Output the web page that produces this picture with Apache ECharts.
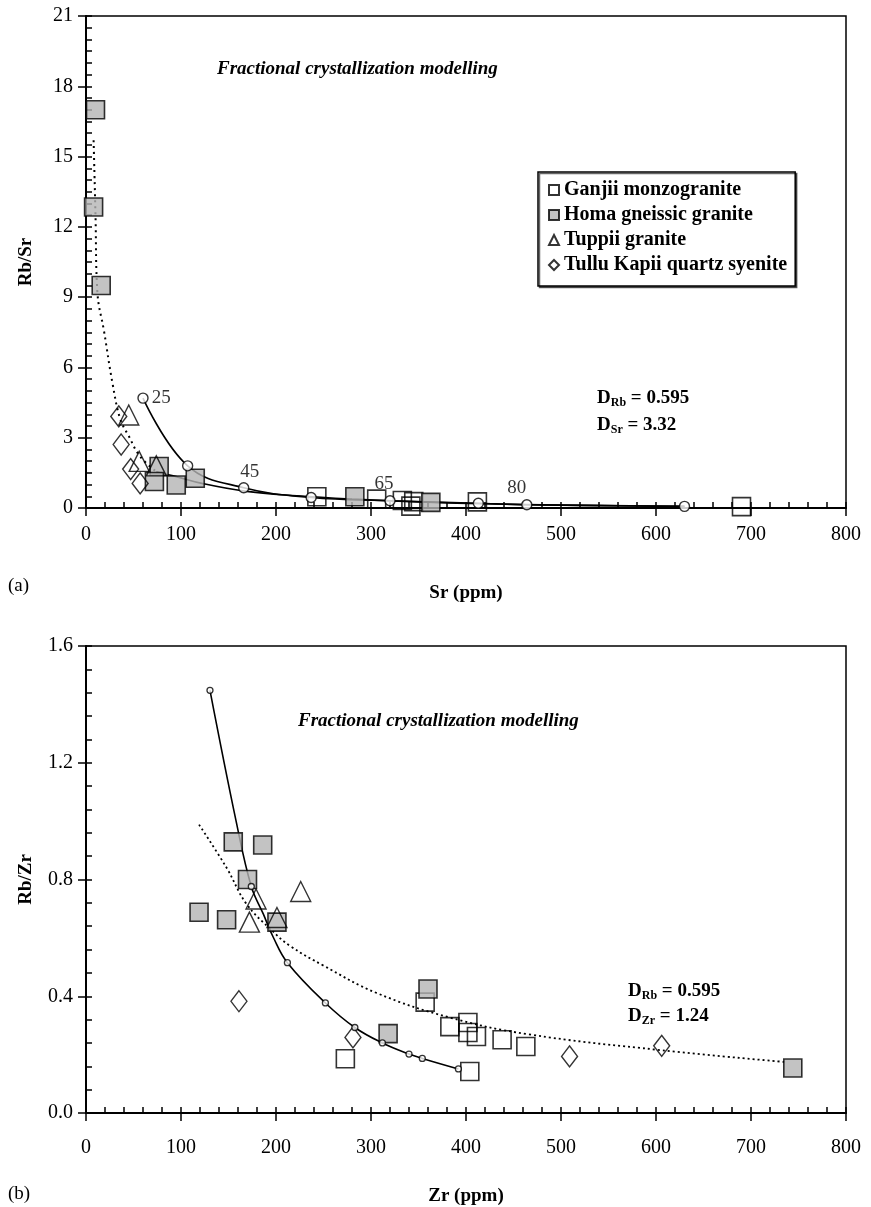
<!DOCTYPE html>
<html>
<head>
<meta charset="utf-8">
<script src="https://cdn.jsdelivr.net/npm/echarts@6/dist/echarts.min.js"></script>
<style>
  html, body { margin: 0; padding: 0; background: #fff; }
  #chart { width: 871px; height: 1207px; }
</style>
</head>
<body>
<div id="chart"></div>
<script>
// ---- (a) Rb/Sr vs Sr ----
const ganjiiSr   = [243, 306, 333, 345, 342, 412, 690];
const ganjiiRbSr = [0.48, 0.38, 0.32, 0.27, 0.08, 0.26, 0.06];
const homaSr     = [10, 8, 16, 77, 72, 95, 115, 283, 363];
const homaRbSr   = [17.0, 12.85, 9.5, 1.77, 1.13, 0.98, 1.27, 0.48, 0.24];
const tuppiiSr   = [45, 56, 74];
const tuppiiRbSr = [3.97, 1.99, 1.8];
const tulluSr    = [34.5, 37, 47, 57];
const tulluRbSr  = [3.91, 2.71, 1.66, 1.05];

// model curve with F steps
const modelSr     = [60, 107, 166, 237, 320, 413, 464, 630];
const modelRbSr   = [4.69, 1.80, 0.865, 0.45, 0.31, 0.2, 0.14, 0.07];
const modelLabels = ['25', '', '45', '', '65', '', '80', ''];
// lower trend curve
const lowerSr   = [74, 95, 122, 167, 222, 280, 350, 430, 530, 630];
const lowerRbSr = [1.55, 1.34, 1.05, 0.72, 0.52, 0.38, 0.26, 0.17, 0.11, 0.07];
// dotted trend
const dotSr   = [8, 10, 12, 19, 28, 36, 45, 57, 74];
const dotRbSr = [15.7, 12.5, 9.2, 7.54, 5.3, 3.8, 3.07, 2.2, 1.55];

// ---- (b) Rb/Zr vs Zr ----
const ganjiiZr   = [273, 357, 383, 402, 402, 411, 438, 463, 404];
const ganjiiRbZr = [0.186, 0.38, 0.296, 0.31, 0.276, 0.262, 0.251, 0.228, 0.142];
const homaZr     = [119, 148, 155, 170, 186, 201, 318, 360, 744];
const homaRbZr   = [0.688, 0.662, 0.929, 0.80, 0.918, 0.654, 0.272, 0.425, 0.154];
const tuppiiZr   = [172, 179, 201, 226];
const tuppiiRbZr = [0.654, 0.733, 0.67, 0.759];
const tulluZr    = [161, 281, 509, 606];
const tulluRbZr  = [0.383, 0.259, 0.194, 0.23];

const stepZr   = [130.5, 174, 212, 252, 283, 312, 340, 354, 392];
const stepRbZr = [1.448, 0.776, 0.515, 0.377, 0.293, 0.24, 0.202, 0.187, 0.151];
const curveZr   = [130.5, 158, 174, 186.6, 197, 212, 252, 283, 312, 340, 354, 392];
const curveRbZr = [1.448, 1.0, 0.776, 0.682, 0.603, 0.515, 0.377, 0.293, 0.24, 0.202, 0.187, 0.151];
const dot2Zr   = [119, 148, 169, 195.5, 215, 250, 306, 383, 465, 606, 735];
const dot2RbZr = [0.988, 0.84, 0.716, 0.626, 0.572, 0.505, 0.411, 0.327, 0.27, 0.215, 0.175];

const FONT = 'Liberation Serif';
const names = ['Ganjii monzogranite', 'Homa gneissic granite', 'Tuppii granite', 'Tullu Kapii quartz syenite'];

function pairs(xs, ys) { return xs.map((x, i) => [x, ys[i]]); }

const symStyle = [
  { symbol: 'rect', symbolSize: 18, itemStyle: { color: 'rgba(255,255,255,0)', borderColor: '#000', borderWidth: 1.6 } },
  { symbol: 'rect', symbolSize: 18, itemStyle: { color: '#b4b4b4', borderColor: '#000', borderWidth: 1.6 } },
  { symbol: 'triangle', symbolSize: 20, itemStyle: { color: 'rgba(255,255,255,0)', borderColor: '#000', borderWidth: 1.4 } },
  { symbol: 'diamond', symbolSize: [16, 21], itemStyle: { color: 'rgba(255,255,255,0)', borderColor: '#000', borderWidth: 1.4 } }
];

function scatter(idx, gi, data) {
  return Object.assign({
    name: names[idx], type: 'scatter', xAxisIndex: gi * 2, yAxisIndex: gi * 2,
    data: data, z: 5 + idx, emphasis: { disabled: true }
  }, symStyle[idx]);
}

function mainX(gi, labelMargin, nameGap, title) {
  return {
    type: 'value', gridIndex: gi, min: 0, max: 800, interval: 100, position: 'bottom',
    name: title, nameLocation: 'middle', nameGap: nameGap,
    nameTextStyle: { fontFamily: FONT, fontWeight: 'bold', fontSize: 19, color: '#000' },
    axisLine: { onZero: false, lineStyle: { color: '#000', width: 2 } },
    axisTick: { inside: false, length: 8, lineStyle: { color: '#000', width: 1.5 } },
    axisLabel: { margin: labelMargin, fontFamily: FONT, fontSize: 20, color: '#000' },
    splitLine: { show: false }
  };
}
function minorX(gi) {
  return {
    type: 'value', gridIndex: gi, min: 0, max: 800, interval: 20, position: 'bottom',
    axisLine: { show: false }, axisLabel: { show: false }, splitLine: { show: false },
    axisTick: { inside: true, length: 6, lineStyle: { color: '#000', width: 1.5 } }
  };
}
function mainY(gi, max, step, fmt, title) {
  return {
    type: 'value', gridIndex: gi, min: 0, max: max, interval: step, position: 'left',
    name: title, nameLocation: 'middle', nameGap: 50, nameRotate: 90,
    nameTextStyle: { fontFamily: FONT, fontWeight: 'bold', fontSize: 19, color: '#000' },
    axisLine: { onZero: false, lineStyle: { color: '#000', width: 2 } },
    axisTick: { inside: false, length: 8, lineStyle: { color: '#000', width: 1.5 } },
    axisLabel: { margin: 13, fontFamily: FONT, fontSize: 20, color: '#000', formatter: fmt },
    splitLine: { show: false }
  };
}
function minorY(gi, max, step) {
  return {
    type: 'value', gridIndex: gi, min: 0, max: max, interval: step, position: 'left',
    axisLine: { show: false }, axisLabel: { show: false }, splitLine: { show: false },
    axisTick: { inside: true, length: 6, lineStyle: { color: '#000', width: 1.5 } }
  };
}

const labelPos = {
  '25': { position: 'right', distance: 3 },
  '45': { position: 'top', offset: [6, 0], distance: 1 },
  '65': { position: 'top', offset: [-6, 0], distance: 2 },
  '80': { position: 'top', offset: [-10, 0], distance: 2 }
};

const modelData = modelSr.map((x, i) => {
  const t = modelLabels[i];
  const item = { value: [x, modelRbSr[i]] };
  if (t) item.label = Object.assign({ show: true, formatter: t, color: '#000', fontSize: 19, fontFamily: FONT }, labelPos[t]);
  return item;
});

const richD = {
  b: { font: 'bold 19px "Liberation Serif"', fill: '#000' },
  s: { font: 'bold 12px "Liberation Serif"', fill: '#000', padding: [9, 0, 0, 0] }
};

const lineBase = { type: 'line', showSymbol: false, silent: true, z: 2 };

const option = {
  animation: false,
  backgroundColor: '#fff',
  grid: [
    { left: 86, right: 25, top: 16, height: 492, show: true, borderColor: '#000', borderWidth: 1.5 },
    { left: 86, right: 25, top: 646, height: 472, show: true, borderColor: '#000', borderWidth: 1.5 }
  ],
  xAxis: [
    mainX(0, 17, 76, 'Sr (ppm)'), minorX(0),
    mainX(1, 25, 74, 'Zr (ppm)'), minorX(1)
  ],
  yAxis: [
    mainY(0, 21, 3, v => String(v), 'Rb/Sr'), minorY(0, 21, 0.5),
    mainY(1, 1.6, 0.4, v => v.toFixed(1), 'Rb/Zr'), minorY(1, 1.6, 0.08)
  ],
  legend: {
    data: names, orient: 'vertical', left: 538, top: 172,
    padding: [8, 8, 11, 10], itemGap: 5, itemWidth: 10, itemHeight: 10,
    borderColor: '#000', borderWidth: 1.5, backgroundColor: '#fff',
    shadowColor: 'rgba(0,0,0,0.6)', shadowOffsetX: 1.5, shadowOffsetY: 1.5, shadowBlur: 0,
    selectedMode: false,
    textStyle: { fontFamily: FONT, fontWeight: 'bold', fontSize: 20, color: '#000' }
  },
  graphic: [
    { type: 'text', left: 217, top: 60, style: { text: 'Fractional crystallization modelling', font: 'italic bold 19px "Liberation Serif"', fill: '#000' } },
    { type: 'text', left: 298, top: 712, style: { text: 'Fractional crystallization modelling', font: 'italic bold 19px "Liberation Serif"', fill: '#000' } },
    { type: 'text', left: 597, top: 389, style: { text: '{b|D}{s|Rb}{b| = 0.595}', rich: richD } },
    { type: 'text', left: 597, top: 416, style: { text: '{b|D}{s|Sr}{b| = 3.32}', rich: richD } },
    { type: 'text', left: 628, top: 982, style: { text: '{b|D}{s|Rb}{b| = 0.595}', rich: richD } },
    { type: 'text', left: 628, top: 1007, style: { text: '{b|D}{s|Zr}{b| = 1.24}', rich: richD } },
    { type: 'text', left: 8, top: 577, style: { text: '(a)', font: '19px "Liberation Serif"', fill: '#000' } },
    { type: 'text', left: 8, top: 1185, style: { text: '(b)', font: '19px "Liberation Serif"', fill: '#000' } }
  ],
  series: [
    // (a)
    Object.assign({}, lineBase, { xAxisIndex: 0, yAxisIndex: 0, smooth: 0.4, data: pairs(dotSr, dotRbSr),
      lineStyle: { color: '#000', width: 2, type: [2, 4] } }),
    Object.assign({}, lineBase, { xAxisIndex: 0, yAxisIndex: 0, smooth: 0.4, data: pairs(lowerSr, lowerRbSr),
      lineStyle: { color: '#000', width: 1.6 } }),
    Object.assign({}, lineBase, { xAxisIndex: 0, yAxisIndex: 0, smooth: 0.4, data: pairs(modelSr, modelRbSr),
      lineStyle: { color: '#000', width: 1.6 } }),
    scatter(0, 0, pairs(ganjiiSr, ganjiiRbSr)),
    scatter(1, 0, pairs(homaSr, homaRbSr)),
    scatter(2, 0, pairs(tuppiiSr, tuppiiRbSr)),
    scatter(3, 0, pairs(tulluSr, tulluRbSr)),
    { type: 'scatter', xAxisIndex: 0, yAxisIndex: 0, z: 12, silent: true, data: modelData,
      symbol: 'circle', symbolSize: 10,
      itemStyle: { color: '#fff', borderColor: '#000', borderWidth: 1.4 },
      label: { show: false, fontFamily: FONT, fontSize: 19, color: '#000' } },
    // (b)
    Object.assign({}, lineBase, { xAxisIndex: 2, yAxisIndex: 2, smooth: 0.4, data: pairs(dot2Zr, dot2RbZr),
      lineStyle: { color: '#000', width: 1.8, type: [2, 3] } }),
    Object.assign({}, lineBase, { xAxisIndex: 2, yAxisIndex: 2, smooth: 0.4, data: pairs(curveZr, curveRbZr),
      lineStyle: { color: '#000', width: 1.6 } }),
    scatter(0, 1, pairs(ganjiiZr, ganjiiRbZr)),
    scatter(1, 1, pairs(homaZr, homaRbZr)),
    scatter(2, 1, pairs(tuppiiZr, tuppiiRbZr)),
    scatter(3, 1, pairs(tulluZr, tulluRbZr)),
    { type: 'scatter', xAxisIndex: 2, yAxisIndex: 2, z: 12, silent: true, data: pairs(stepZr, stepRbZr),
      symbol: 'circle', symbolSize: 6,
      itemStyle: { color: '#fff', borderColor: '#000', borderWidth: 1.3 } }
  ]
};

const myChart = echarts.init(document.getElementById('chart'), null, { renderer: 'canvas' });
myChart.setOption(option);
</script>
</body>
</html>
